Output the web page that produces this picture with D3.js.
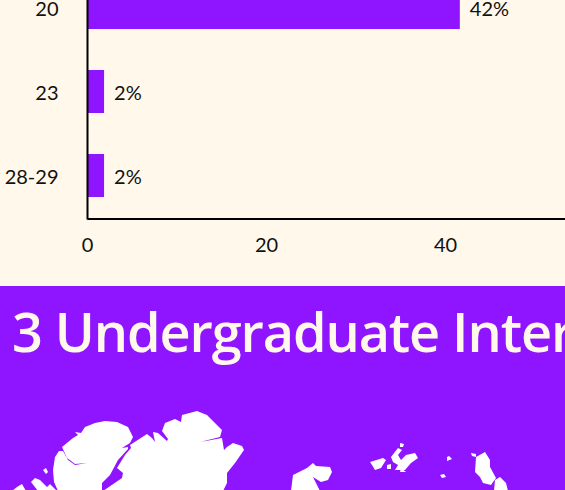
<!DOCTYPE html>
<html><head><meta charset="utf-8">
<style>html,body{margin:0;padding:0;background:#fff8eb;overflow:hidden}svg{display:block}</style>
<script src="https://cdn.jsdelivr.net/npm/d3@7"></script></head><body>
<script>
const categories = ["20","23","28-29"];
const values = [41.6,1.85,1.85];
const valueLabels = ["42%","2%","2%"];
const xTicks = [0,20,40];
const title = "3 Undergraduate Internships";
const cream="#fff8eb", purple="#8f14ff", ink="#111";
const W=565,H=490;
// decorative map silhouette (pixels)
const mapWest = [
 [[12,491],[17,487],[22,484],[26,491]],
 [[31,482],[35,478],[40,480],[45,485],[47,487],[50,484],[57,491],[38,491]],
 [[43,470],[46,468],[48,472],[46,474]],
 [[58,491],[54,482],[53,470],[55,457],[59,451],[63,451],[68,460],[75,465],[87,463],[75,464],[67,458],[62,447],[73,438],[78,435],[75,432],[81,433],[85,427],[95,423],[105,421],[117,422],[128,427],[133,437],[130,443],[122,448],[128,447],[128,449],[118,460],[110,475],[102,483],[102,491]],
 [[103,491],[122,478],[123,473],[117,468],[125,455],[131,448],[130,445],[147,434],[152,438],[155,442],[153,432],[158,433],[167,441],[168,439],[162,431],[165,423],[175,419],[181,422],[182,415],[197,411],[207,415],[222,430],[220,437],[200,442],[222,438],[224,450],[227,447],[233,443],[242,446],[244,450],[235,463],[227,473],[227,483],[223,491]]
];
const mapEast = [
 [[293,475],[307,468],[313,463],[316,466],[330,467],[332,472],[328,480],[321,482],[313,477],[320,491],[291,491]],
 [[370,462],[383,458],[386,460],[381,468],[375,470],[372,465]],
 [[387,465],[391,464],[391,469],[387,469]],
 [[391,457],[398,448],[402,450],[398,455],[401,460],[406,455],[415,453],[418,458],[411,463],[405,470],[395,470],[398,465],[393,462]],
 [[400,443],[404,444],[403,447],[400,447]],
 [[401,468],[406,472],[400,472]],
 [[447,457],[449,456],[452,459],[447,461]],
 [[440,475],[444,474],[446,477],[442,478]],
 [[471,453],[476,454],[476,457],[472,456]],
 [[476,457],[485,452],[490,460],[490,467],[496,478],[491,485],[483,483],[480,477],[475,472]],
 [[495,480],[500,477],[506,483],[508,491],[494,491]]
];
const svg=d3.select("body").append("svg").attr("width",W).attr("height",H)
  .style("font-family","Lato, sans-serif");
svg.append("rect").attr("width",W).attr("height",H).attr("fill",cream);

const x=d3.scaleLinear().domain([0,60]).range([87.5,624.5]);
const y=d3.scaleBand().domain(categories).range([-36.5,219.5]).paddingInner(.488).paddingOuter(.268);

svg.selectAll("rect.bar").data(categories).join("rect").attr("class","bar")
  .attr("x",x(0)).attr("y",d=>y(d)).attr("height",y.bandwidth())
  .attr("width",(d,i)=>x(values[i])-x(0)).attr("fill",purple);
svg.selectAll("text.val").data(categories).join("text").attr("class","val")
  .attr("x",(d,i)=>x(values[i])+10).attr("y",d=>y(d)+y.bandwidth()/2+1.5).attr("dy","0.35em")
  .attr("font-size",20).attr("fill",ink).text((d,i)=>valueLabels[i]);

const ax=svg.append("g").attr("transform","translate(0,219)")
  .call(d3.axisBottom(x).offset(0).tickValues(xTicks).tickSize(0).tickPadding(19).tickFormat(d3.format("d")));
ax.select(".domain").attr("stroke","#000").attr("stroke-width",2);
ax.selectAll("text").attr("font-size",20).attr("fill",ink).attr("font-family","Lato, sans-serif");
const ay=svg.append("g").attr("transform","translate(87.5,0)")
  .call(d3.axisLeft(y).offset(0).tickSize(0).tickPadding(29));
ay.select(".domain").attr("stroke","#000").attr("stroke-width",2);
ay.selectAll("text").attr("font-size",20).attr("fill",ink).attr("font-family","Lato, sans-serif").attr("dy","0.42em");

svg.append("rect").attr("y",286).attr("width",W).attr("height",H-286).attr("fill",purple);
svg.append("text").attr("x",12).attr("y",351.5).attr("font-size",54).attr("font-weight",600)
  .attr("letter-spacing",-1.1).attr("fill",cream).attr("font-family","'Open Sans', sans-serif").text(title);

const line=d3.line().curve(d3.curveLinearClosed);
svg.append("g").attr("fill","#fff").selectAll("path").data(mapWest.concat(mapEast)).join("path").attr("d",line);
</script></body></html>
